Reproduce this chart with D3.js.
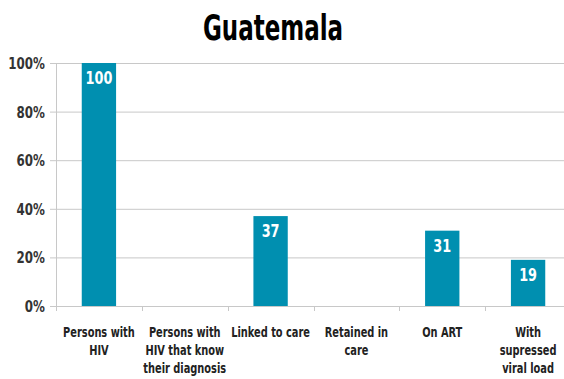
<!DOCTYPE html>
<html><head><meta charset="utf-8">
<script src="https://cdn.jsdelivr.net/npm/d3@7"></script>
<style>
html,body{margin:0;padding:0;background:#fff;}
svg{display:block;}
text{font-family:"DejaVu Sans Condensed","DejaVu Sans",sans-serif;font-weight:bold;}
</style></head>
<body>
<script>
const title = "Guatemala";
const categories = [
  ["Persons with","HIV"],
  ["Persons with","HIV that know","their diagnosis"],
  ["Linked to care"],
  ["Retained in","care"],
  ["On ART"],
  ["With","supressed","viral load"]
];
const values = [100, null, 37, null, 31, 19];
const yTicks = [0, 20, 40, 60, 80, 100];

const W = 564, H = 379;
const svg = d3.select("body").append("svg").attr("width", W).attr("height", H);

const x = d3.scaleBand().domain(d3.range(categories.length)).range([56, 571]).paddingInner(0.6).paddingOuter(0.3);
const xb = d3.scaleBand().domain(d3.range(categories.length)).range([56, 571]);
const y = d3.scaleLinear().domain([0, 100]).range([306, 63]);

// narrow text helper: horizontal squeeze to mimic a condensed face
function place(sel, fx, fy, s) {
  return sel.attr("transform", (d, i) => `translate(${fx(d, i)},${fy(d, i)}) scale(${s},1)`);
}

place(svg.append("text").datum(title), () => 273, () => 39.5, 0.71)
  .attr("text-anchor", "middle").attr("font-size", 36).attr("fill", "#000").text(title);

// gridlines
svg.append("g").selectAll("line").data(yTicks.filter(d => d > 0)).join("line")
  .attr("x1", 56).attr("x2", W).attr("y1", d => y(d) + 0.5).attr("y2", d => y(d) + 0.5)
  .attr("stroke", "#c8c8c8").attr("stroke-width", 1);

// y axis line + ticks
svg.append("line").attr("x1", 56.5).attr("x2", 56.5).attr("y1", y(100)).attr("y2", y(0) + 5).attr("stroke", "#c8c8c8");
svg.append("g").selectAll("line").data(yTicks).join("line")
  .attr("x1", 50).attr("x2", 56).attr("y1", d => y(d) + 0.5).attr("y2", d => y(d) + 0.5).attr("stroke", "#c8c8c8");
place(svg.append("g").selectAll("text").data(yTicks).join("text"), () => 45, d => y(d) + 6, 0.88)
  .attr("text-anchor", "end").attr("font-size", 15).attr("fill", "#333").text(d => d + "%");

// x axis baseline and ticks at band boundaries
svg.append("line").attr("x1", 56).attr("x2", W).attr("y1", y(0) + 0.5).attr("y2", y(0) + 0.5).attr("stroke", "#c8c8c8");
svg.append("g").selectAll("line").data(d3.range(categories.length)).join("line")
  .attr("x1", d => Math.round(xb(d)) + 0.5).attr("x2", d => Math.round(xb(d)) + 0.5)
  .attr("y1", y(0)).attr("y2", y(0) + 5).attr("stroke", "#c8c8c8");

// bars
const barData = values.map((v, i) => ({i, v})).filter(d => d.v != null);
svg.append("g").selectAll("rect").data(barData).join("rect")
  .attr("x", d => x(d.i)).attr("width", x.bandwidth())
  .attr("y", d => y(d.v)).attr("height", d => y(0) - y(d.v))
  .attr("fill", "#008fb0");

place(svg.append("g").selectAll("text").data(barData).join("text"),
  d => x(d.i) + x.bandwidth() / 2, d => y(d.v) + 21, 0.84)
  .attr("text-anchor", "middle").attr("font-size", 17).attr("fill", "#fff")
  .text(d => d.v);

// category labels
const cat = place(svg.append("g").selectAll("text").data(categories).join("text"),
  (d, i) => xb(i) + xb.bandwidth() / 2, () => 337, 0.81)
  .attr("text-anchor", "middle").attr("font-size", 13.5).attr("fill", "#222");
cat.selectAll("tspan").data(d => d).join("tspan")
  .attr("x", 0).attr("dy", (d, j) => j === 0 ? 0 : 18).text(d => d);
</script>
</body></html>
